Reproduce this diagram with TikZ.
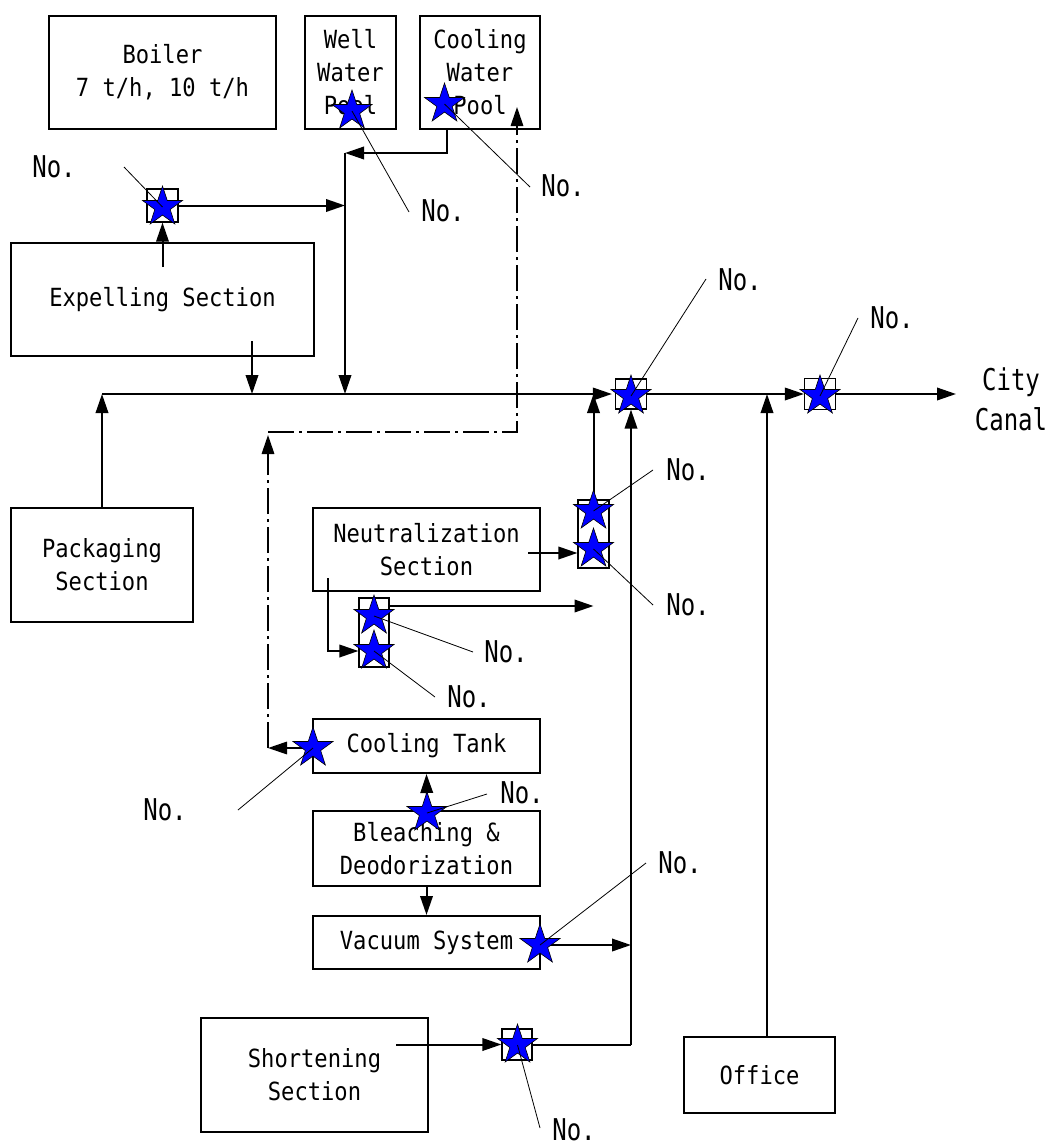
\documentclass[tikz,border=0pt]{standalone}
\usepackage{fontspec}
\newfontfamily\boxfont[FakeStretch=0.885]{DejaVu Sans Mono}
\newfontfamily\labfont[FakeStretch=0.8]{DejaVu Sans Mono}
\usetikzlibrary{shapes.geometric,arrows.meta}

\begin{document}
\begin{tikzpicture}[x=1pt,y=-1pt,
  >={Triangle[length=19pt,width=12.5pt]},
  unit/.style={draw, line width=2pt, inner sep=0pt, align=center,
    font=\boxfont\fontsize{25}{33}\selectfont},
  tap/.style={draw, line width=1.2pt, inner sep=0pt},
  starmark/.style={star, star points=5, star point ratio=2.6, minimum size=42pt,
    inner sep=0pt, fill=blue, draw=black, line width=0.6pt},
  flow/.style={line width=2pt, ->},
  pipe/.style={line width=2pt},
  dd/.style={line width=1.7pt, dash pattern=on 26pt off 5pt on 3pt off 5pt},
  leader/.style={line width=0.8pt},
  lab/.style={inner sep=0pt, font=\labfont\fontsize{30}{40}\selectfont},
]
\useasboundingbox (0,0) rectangle (1050,1146);

% ---- process units ----
\node[unit, minimum width=227pt, minimum height=113pt] (boiler)   at (162.5,72.5)  {Boiler\\7 t/h, 10 t/h};
\node[unit, minimum width=91pt,  minimum height=113pt] (well)     at (350.5,72.5)  {Well\\Water\\Pool};
\node[unit, minimum width=120pt, minimum height=113pt] (coolpool) at (480,72.5)    {Cooling\\Water\\Pool};
\node[unit, minimum width=303pt, minimum height=113pt] (expel)    at (162.5,299.5) {Expelling Section};
\node[unit, minimum width=182pt, minimum height=114pt] (pack)     at (102,565)     {Packaging\\Section};
\node[unit, minimum width=227pt, minimum height=83pt]  (neut)     at (426.5,549.5) {Neutralization\\Section};
\node[unit, minimum width=227pt, minimum height=54pt]  (ctank)    at (426.5,746)   {Cooling Tank};
\node[unit, minimum width=227pt, minimum height=75pt]  (bleach)   at (426.5,848.5) {Bleaching \&\\Deodorization};
\node[unit, minimum width=227pt, minimum height=53pt]  (vac)      at (426.5,942.5) {Vacuum System};
\node[unit, minimum width=227pt, minimum height=114pt] (short)    at (314.5,1075)  {Shortening\\Section};
\node[unit, minimum width=151pt, minimum height=76pt]  (office)   at (759.5,1075)  {Office};

% ---- sampling boxes ----
\node[tap, minimum width=31pt, minimum height=33pt] (bx_exp) at (162.5,205.5) {};
\node[tap, minimum width=31pt, minimum height=30pt] (bx_m1)  at (631,394) {};
\node[tap, minimum width=31pt, minimum height=31pt] (bx_m2)  at (820,394) {};
\node[tap, minimum width=31pt, minimum height=68pt] (bx_n)   at (593.5,534) {};
\node[tap, minimum width=30pt, minimum height=69pt] (bx_l)   at (374,632.5) {};
\node[tap, minimum width=30pt, minimum height=31pt] (bx_sh)  at (517,1044.5) {};

% ---- junction points ----
\coordinate (mainL)  at (102,394);
\coordinate (xexp)   at (162.5,267);
\coordinate (jcol)   at (345,153);
\coordinate (cpout)  at (447,129.5);
\coordinate (exd)    at (252,341);
\coordinate (canal)  at (956,394);
\coordinate (offtop) at (767,1037);
\coordinate (shR)    at (631,1044.5);
\coordinate (neutO)  at (528,553);
\coordinate (neutD)  at (328,578);
\coordinate (lO)     at (389,606);
\coordinate (shO)    at (396,1044.5);
\coordinate (dd1)    at (268,748);
\coordinate (dd2)    at (268,432);
\coordinate (dd2a)   at (268,435);
\coordinate (dd3)    at (517,432);
\coordinate (dd4)    at (517,107);

% ---- star positions ----
\path (162.5,207) coordinate (p_exp)  (352,111) coordinate (p_well)
      (444.5,104) coordinate (p_cool) (631,396) coordinate (p_m1)
      (820,396) coordinate (p_m2)     (593.5,511) coordinate (p_n1)
      (593.5,549) coordinate (p_n2)   (374,616) coordinate (p_l1)
      (374,651) coordinate (p_l2)     (313,748) coordinate (p_ct)
      (427,813) coordinate (p_bl)     (540,945) coordinate (p_vac)
      (517.5,1045) coordinate (p_sh);

% ---- wastewater lines ----
\draw[flow] (xexp) -- (bx_exp.south);
\draw[flow] (bx_exp.east) -- (bx_exp.east -| jcol);
\draw[flow] (cpout) |- (jcol);
\draw[flow] (jcol) -- (jcol |- mainL);
\draw[flow] (exd) -- (exd |- mainL);
\draw[flow] (pack.north) -- (mainL);
\draw[flow, shorten >=3pt] (mainL) -- (bx_m1.west);
\draw[flow] (bx_m1.east) -- (bx_m2.west);
\draw[flow] (bx_m2.east) -- (canal);
\draw[flow] (offtop) -- (offtop |- mainL);
\draw[pipe] (bx_sh.east) -- (shR);
\draw[flow] (shR) -- (bx_m1.south);
\draw[flow] (bx_n.north) -- (bx_n.north |- mainL);
\draw[flow] (neutO) -- (neutO -| bx_n.west);
\draw[flow] (neutD) |- (p_l2 -| bx_l.west);
\draw[flow] (lO) -- (lO -| bx_n);
\draw[flow] (p_bl) -- (ctank.south);
\draw[flow] (bleach.south) -- (vac.north);
\draw[flow] (p_vac) -- (p_vac -| shR);
\draw[flow] (shO) -- (bx_sh.west);

% ---- cooling water return ----
\draw[dd, ->] (p_ct) -- (dd1);
\draw[dd, ->] (dd1) -- (dd2a);
\draw[dd, ->] (dd2) -- (dd3) -- (dd4);

% ---- sampling points ----
\foreach \p in {exp,well,cool,m1,m2,n1,n2,l1,l2,ct,bl,vac,sh}
  \node[starmark] (s_\p) at (p_\p) {};

% ---- point labels ----
\node[lab] (n_exp)  at (54,167)   {No.};
\node[lab] (n_well) at (443,211)  {No.};
\node[lab] (n_cool) at (563,186)  {No.};
\node[lab] (n_m1)   at (740,280)  {No.};
\node[lab] (n_m2)   at (892,318)  {No.};
\node[lab] (n_n1)   at (688,470)  {No.};
\node[lab] (n_n2)   at (688,605)  {No.};
\node[lab] (n_l1)   at (506,652)  {No.};
\node[lab] (n_l2)   at (469,697)  {No.};
\node[lab] (n_ct)   at (165,810)  {No.};
\node[lab] (n_bl)   at (522,793)  {No.};
\node[lab] (n_vac)  at (680,863)  {No.};
\node[lab] (n_sh)   at (574,1130) {No.};

\path (124,167) coordinate (e_exp)  (409,212) coordinate (e_well)
      (530,187) coordinate (e_cool) (706,279) coordinate (e_m1)
      (858,318) coordinate (e_m2)   (653,470) coordinate (e_n1)
      (653,605) coordinate (e_n2)   (473,652) coordinate (e_l1)
      (435,697) coordinate (e_l2)   (238,810) coordinate (e_ct)
      (487,794) coordinate (e_bl)   (646,863) coordinate (e_vac)
      (540,1128) coordinate (e_sh);
\foreach \p in {exp,well,cool,m1,m2,n1,n2,l1,l2,ct,bl,vac,sh}
  \draw[leader] (s_\p.center) -- (e_\p);

\node[lab, align=center] (city) at (1011,399) {City\\Canal};
\end{tikzpicture}
\end{document}
